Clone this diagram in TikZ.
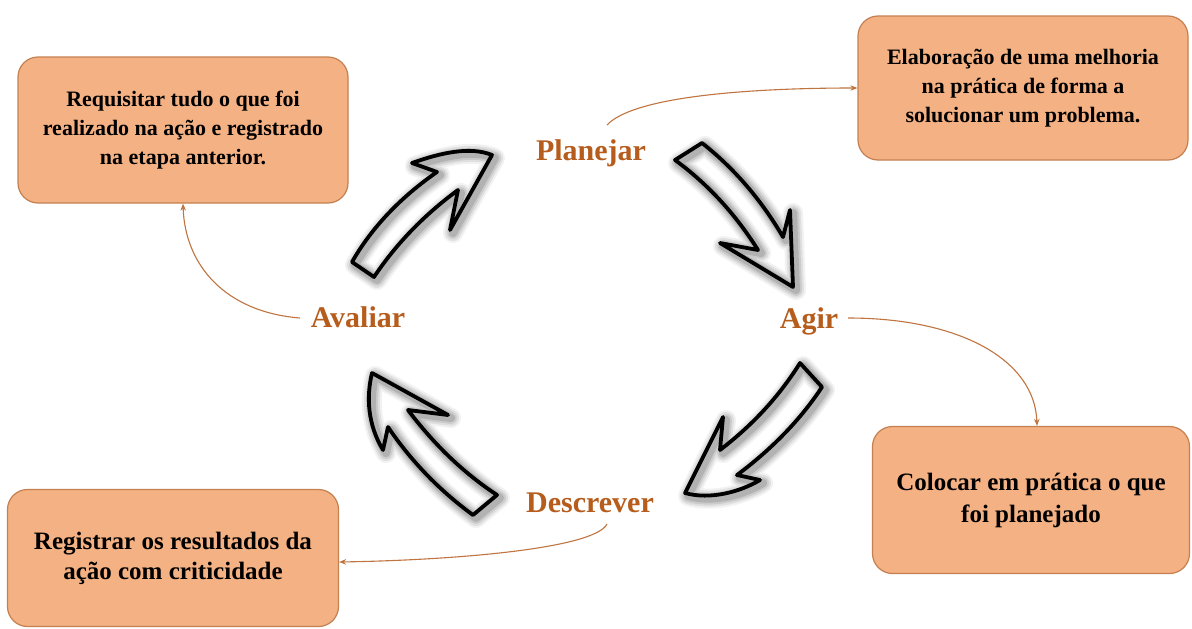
\documentclass[tikz,border=0pt]{standalone}
\usepackage{fontspec}
\setmainfont{Liberation Serif}
\usetikzlibrary{arrows.meta}

\definecolor{boxfill}{RGB}{244,177,131}
\definecolor{boxline}{RGB}{196,128,80}
\definecolor{stagecol}{RGB}{182,92,28}
\definecolor{linkcol}{RGB}{192,116,64}

% outlines of the four curved cycle arrows (pixel-like units, y downwards)
\def\pathA{(352,262) .. controls (372,227) and (401,197) .. (437,172) -- (412,163)
  .. controls (440,153) and (470,146) .. (492,155) -- (450,230) -- (458,190)
  .. controls (424,215) and (396,244) .. (374,277) -- cycle}
\def\pathB{(675,160) .. controls (709,185) and (736,215) .. (758,250) -- (720,243)
  -- (793,287) -- (790,210) -- (783,237)
  .. controls (762,201) and (735,169) .. (702,143) -- cycle}
\def\pathC{(800,363) .. controls (780,395) and (754,424) .. (720,450) -- (723,417)
  -- (685,493) .. controls (710,500) and (740,492) .. (760,480) -- (737,475)
  .. controls (772,449) and (801,419) .. (822,387) -- cycle}
\def\pathD{(372,373) -- (448,415) -- (408,410)
  .. controls (433,443) and (462,472) .. (497,495) -- (473,515)
  .. controls (440,491) and (411,461) .. (388,427) -- (383,450)
  .. controls (368,425) and (366,398) .. (372,373) -- cycle}

\tikzset{
  infobox/.style={draw=boxline, line width=1.2pt, fill=boxfill, rounded corners=20pt,
    align=center, text=black, inner sep=0pt,
    font=\fontsize{22}{29}\selectfont\bfseries},
  stagelabel/.style={text=stagecol, anchor=base, inner sep=2pt,
    font=\fontsize{30}{32}\selectfont\bfseries},
  link/.style={draw=linkcol, line width=1.1pt, -{Stealth[length=7pt,width=5.5pt]}},
  cyclearrow/.style={draw=black, line width=3.8pt, line join=round},
}

\begin{document}
\begin{tikzpicture}[x=1pt, y=-1pt]
\useasboundingbox (0,0) rectangle (1192,629);
\fill[white] (0,0) rectangle (1192,629);

% cycle arrows: white body, soft grey halo, black outline
\foreach \p in {\pathA,\pathB,\pathC,\pathD}{
  \fill[white] \p;
  \foreach \w/\op in {20/0.05, 16/0.07, 12/0.09, 8/0.12}{
    \draw[shift={(3,3)}, line width=\w pt, black, opacity=\op, line join=round] \p;
  }
  \draw[cyclearrow] \p;
}

% stage labels
\node[stagelabel] (plan) at (591,160) {Planejar};
\node[stagelabel] (agir) at (809,328) {Agir};
\node[stagelabel] (desc) at (590,512) {Descrever};
\node[stagelabel] (aval) at (358,327) {Avaliar};

% description boxes
\node[infobox, minimum width=330pt, minimum height=146pt] (boxTL) at (183,130)
  {Requisitar tudo o que foi\\realizado na ação e registrado\\na etapa anterior.};
\node[infobox, minimum width=330pt, minimum height=144pt] (boxTR) at (1023,88)
  {Elaboração de uma melhoria\\na prática de forma a\\solucionar um problema.};
\node[infobox, minimum width=317pt, minimum height=147pt,
  font=\fontsize{25}{32}\selectfont\bfseries] (boxBR) at (1031,500)
  {Colocar em prática o que\\foi planejado};
\node[infobox, minimum width=331pt, minimum height=137pt,
  font=\fontsize{25}{30}\selectfont\bfseries] (boxBL) at (173,558)
  {Registrar os resultados da\\ação com criticidade};

% links from each stage to its description
\coordinate (planOut) at (607,125);
\coordinate (agirOut) at (848,318);
\coordinate (descOut) at (607,524);
\coordinate (avalOut) at (300,318);

\draw[link] (planOut) .. controls (635,95) and (760,88) .. (boxTR.west);
\draw[link] (agirOut) .. controls (960,318) and (1035,360) .. ([xshift=6pt]boxBR.north);
\draw[link] (descOut) .. controls (595,548) and (460,560) .. ([yshift=-4pt]boxBL.east);
\draw[link] (avalOut) .. controls (225,312) and (185,265) .. (boxTL.south);
\end{tikzpicture}
\end{document}
